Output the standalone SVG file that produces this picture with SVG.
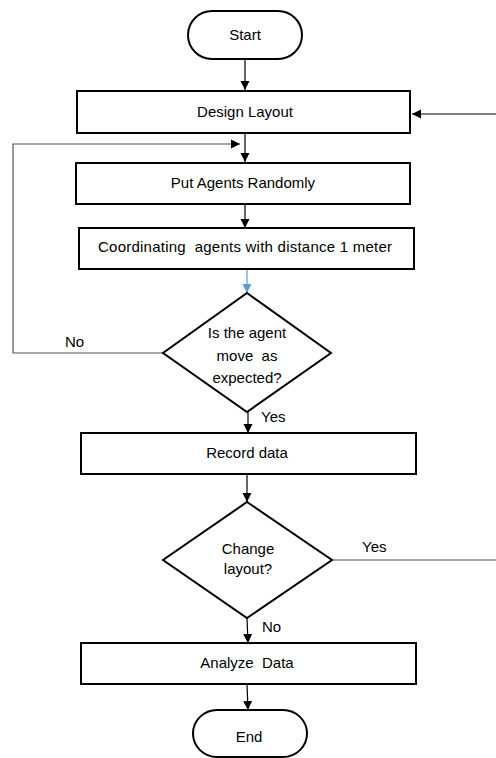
<svg xmlns="http://www.w3.org/2000/svg" width="496" height="758" viewBox="0 0 496 758">
<style>
.box{fill:#fff;stroke:#000;stroke-width:2}
.t{font-family:"Liberation Sans",Arial,sans-serif;font-size:15px;fill:#000;text-anchor:middle;white-space:pre}
.l{font-family:"Liberation Sans",Arial,sans-serif;font-size:15px;fill:#000}
.c{fill:none;stroke:#000;stroke-width:1.2}
.g{fill:none;stroke:#555;stroke-width:1.2}
.b{fill:none;stroke:#5B9BD5;stroke-width:1.2}
</style>
<defs>
<marker id="ah" markerWidth="10" markerHeight="10" refX="9" refY="5" orient="auto" markerUnits="userSpaceOnUse"><path d="M0,0.5 L9,5 L0,9.5 Z" fill="#000"/></marker>
<marker id="ahb" markerWidth="10" markerHeight="10" refX="9" refY="5" orient="auto" markerUnits="userSpaceOnUse"><path d="M0,0.5 L9,5 L0,9.5 Z" fill="#5B9BD5"/></marker>
</defs>
<g id="connectors">
<line class="c" x1="245" y1="59" x2="245" y2="90" marker-end="url(#ah)"/>
<line class="c" x1="496" y1="114" x2="412" y2="114" marker-end="url(#ah)"/>
<line class="c" x1="245" y1="133" x2="245" y2="162" marker-end="url(#ah)"/>
<polyline class="g" points="163,353 13,353 13,144 240,144" marker-end="url(#ah)"/>
<line class="c" x1="245" y1="204" x2="245" y2="228" marker-end="url(#ah)"/>
<line class="b" x1="247" y1="269" x2="247" y2="293" marker-end="url(#ahb)"/>
<line class="c" x1="248" y1="412" x2="248" y2="433" marker-end="url(#ah)"/>
<line class="c" x1="247" y1="470" x2="247" y2="502" marker-end="url(#ah)"/>
<line class="g" x1="332" y1="560" x2="496" y2="560"/>
<line class="c" x1="247" y1="618" x2="248" y2="643" marker-end="url(#ah)"/>
<line class="c" x1="247" y1="684" x2="248" y2="710" marker-end="url(#ah)"/>
<text class="l" x="65" y="347">No</text>
<text class="l" x="261" y="422">Yes</text>
<text class="l" x="362" y="552">Yes</text>
<text class="l" x="262" y="632">No</text>
</g>
<g id="start">
<rect class="box" x="188" y="11" width="114" height="48" rx="24" ry="24"/>
<text class="t" x="245" y="40">Start</text>
</g>
<g id="design">
<rect class="box" x="77" y="91" width="333" height="42"/>
<text class="t" x="245" y="117">Design Layout</text>
</g>
<g id="put">
<rect class="box" x="76" y="163" width="334" height="41"/>
<text class="t" x="243" y="188">Put Agents Randomly</text>
</g>
<g id="coord">
<rect class="box" x="79" y="228" width="335" height="41"/>
<text class="t" x="245" y="252" textLength="294" lengthAdjust="spacing">Coordinating  agents with distance 1 meter</text>
</g>
<g id="check">
<polygon class="box" points="247,293 331,353 247,412 163,353"/>
<text class="t" x="247" y="338">Is the agent</text>
<text class="t" x="247" y="361">move  as</text>
<text class="t" x="247" y="383">expected?</text>
</g>
<g id="record">
<rect class="box" x="81" y="433" width="335" height="41"/>
<text class="t" x="247" y="458">Record data</text>
</g>
<g id="change">
<polygon class="box" points="247,502 332,560 247,618 163,560"/>
<text class="t" x="248" y="554">Change</text>
<text class="t" x="248" y="574">layout?</text>
</g>
<g id="analyze">
<rect class="box" x="81" y="643" width="335" height="41"/>
<text class="t" x="247" y="668">Analyze  Data</text>
</g>
<g id="end">
<rect class="box" x="193" y="710" width="114" height="47" rx="24" ry="24"/>
<text class="t" x="249" y="742">End</text>
</g>
</svg>
